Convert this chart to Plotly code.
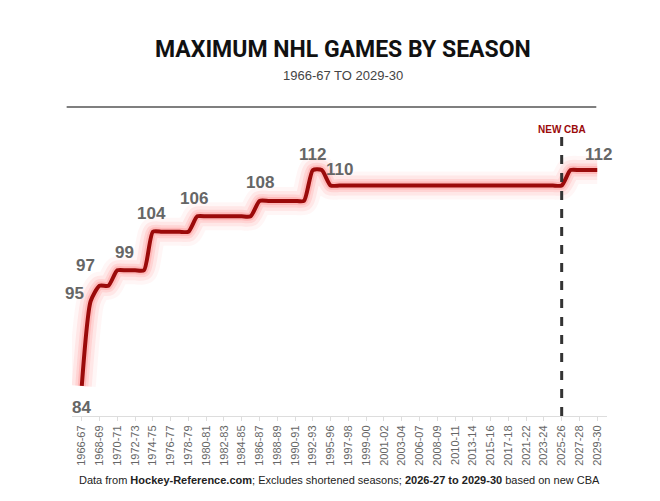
import plotly.graph_objects as go

excluded = ["1994-95", "2004-05", "2012-13", "2019-20", "2020-21"]
all_seasons = [f"{y}-{str(y+1)[-2:]}" for y in range(1966, 2030)]
seasons = [s for s in all_seasons if s not in excluded]

# max games per season (regular season + max playoff games)
early_games = [84, 95, 97, 97, 99, 99, 99, 99] + [104]*5 + [106]*7 + [108]*6 + [112]*2
games_by_season = {}
for s, v in zip(seasons, early_games):
    games_by_season[s] = v
for s in seasons[len(early_games):]:
    games_by_season[s] = 112 if s >= "2026-27" else 110
games = [games_by_season[s] for s in seasons]

labels = {"1966-67": ("84", 0, 22), "1967-68": ("95", -16, -8), "1968-69": ("97", -14, -20),
          "1971-72": ("99", -2, -18), "1975-76": ("104", -10, -18), "1980-81": ("106", -12, -18),
          "1987-88": ("108", -8, -18), "1992-93": ("112", 0, -16), "1996-97": ("110", 0, -16),
          "2028-29": ("112", 10, -16)}

FONT = "Liberation Sans"
fig = go.Figure()
for w, a in [(28, 0.05), (20, 0.08), (13, 0.12), (8, 0.18)]:
    fig.add_trace(go.Scatter(x=seasons, y=games, mode="lines", line=dict(color=f"rgba(255,70,70,{a})", width=w, shape="spline", smoothing=0.6), hoverinfo="skip"))
fig.add_trace(go.Scatter(x=seasons, y=games, mode="lines", line=dict(color="#9b0a0a", width=4, shape="spline", smoothing=0.6)))

for s, (t, dx, dy) in labels.items():
    fig.add_annotation(x=s, y=games_by_season[s], text=f"<b>{t}</b>", showarrow=False, xshift=dx, yshift=-dy,
                       font=dict(size=17, color="#666666", family=FONT))

fig.update_layout(
    width=660, height=501, showlegend=False, plot_bgcolor="white", paper_bgcolor="white",
    margin=dict(l=64, r=61, t=122, b=93),
    xaxis=dict(type="category", range=[-1.1, len(seasons) - 1 + 1.1], tickangle=-90,
               tickvals=seasons[::2], ticktext=seasons[::2], tickfont=dict(size=11, color="#666666", family=FONT),
               showgrid=False, showline=True, linecolor="#dddddd", ticks="outside", ticklen=4, tickcolor="#dddddd"),
    yaxis=dict(range=[80.1, 117.2], visible=False),
)
fig.add_shape(type="line", x0="2025-26", x1="2025-26", y0=80.1, y1=116.5, xref="x", yref="y",
              line=dict(color="#333333", width=3, dash="dash"))
fig.add_shape(type="line", xref="paper", yref="paper", x0=-0.01, x1=0.98, y0=1.08, y1=1.08,
              line=dict(color="#555555", width=1.5))
fig.add_annotation(x="2025-26", y=1, yref="paper", yshift=8, text="<b>NEW CBA</b>", showarrow=False,
                   font=dict(size=10, color="#9b0a0a", family=FONT))
fig.add_annotation(x=0.507, y=1.28, xref="paper", yref="paper", yanchor="middle", showarrow=False,
                   text="<b>MAXIMUM NHL GAMES BY SEASON</b>",
                   font=dict(size=23, color="#111111", family="Roboto"))
fig.add_annotation(x=0.507, y=1.19, xref="paper", yref="paper", yanchor="middle", showarrow=False,
                   text="1966-67 TO 2029-30", font=dict(size=13, color="#444444", family=FONT))
fig.add_annotation(x=0.5, y=-0.225, xref="paper", yref="paper", yanchor="middle", showarrow=False,
                   text="Data from <b>Hockey-Reference.com</b>; Excludes shortened seasons; <b>2026-27 to 2029-30</b> based on new CBA",
                   font=dict(size=11, color="#222222", family=FONT))
fig.write_html("out.html")
